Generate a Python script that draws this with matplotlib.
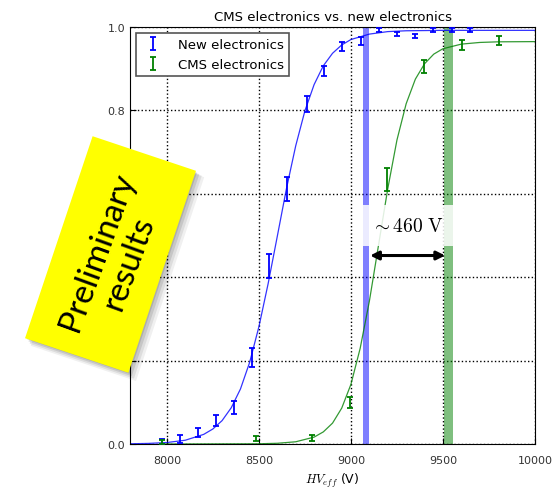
import numpy as np
import matplotlib.pyplot as plt
from matplotlib.patches import Rectangle

plt.rcParams['mathtext.fontset'] = 'cm'

# New electronics: measured points (HV_eff, efficiency, error)
new_hv = [7972, 8072, 8168, 8267, 8367, 8461, 8557, 8655, 8760, 8851,
          8950, 9054, 9153, 9249, 9349, 9445, 9548, 9648]
new_eff = [0.006, 0.012, 0.028, 0.056, 0.088, 0.207, 0.426, 0.612, 0.815, 0.895,
           0.953, 0.966, 0.992, 0.984, 0.978, 0.992, 0.992, 0.992]
new_err = [0.007, 0.009, 0.011, 0.014, 0.016, 0.023, 0.029, 0.029, 0.020, 0.012,
           0.011, 0.009, 0.005, 0.005, 0.005, 0.005, 0.005, 0.005]

# CMS electronics: measured points
cms_hv = [7975, 8485, 8787, 8996, 9195, 9398, 9606, 9805]
cms_eff = [0.004, 0.012, 0.014, 0.100, 0.634, 0.906, 0.957, 0.968]
cms_err = [0.005, 0.006, 0.008, 0.013, 0.028, 0.016, 0.012, 0.011]

# fitted sigmoid curves
new_fit_hv = [7800, 7900, 8000, 8100, 8200, 8250, 8300, 8350, 8400, 8450, 8500,
              8550, 8600, 8650, 8700, 8750, 8800, 8850, 8900, 8950, 9000, 9100,
              9200, 9300, 9500, 10000]
new_fit_eff = [0.0005, 0.0014, 0.0035, 0.009, 0.023, 0.036, 0.056, 0.087, 0.132,
               0.196, 0.281, 0.384, 0.498, 0.613, 0.715, 0.799, 0.862, 0.907,
               0.937, 0.957, 0.970, 0.983, 0.989, 0.991, 0.992, 0.992]
cms_fit_hv = [7975, 8500, 8600, 8700, 8800, 8850, 8900, 8950, 9000, 9050, 9100,
              9150, 9200, 9250, 9300, 9350, 9400, 9450, 9500, 9600, 9700, 9800,
              10000]
cms_fit_eff = [0.0, 0.0005, 0.0017, 0.0053, 0.0165, 0.029, 0.050, 0.086, 0.143,
               0.229, 0.342, 0.477, 0.612, 0.729, 0.816, 0.875, 0.912, 0.935,
               0.948, 0.959, 0.963, 0.9645, 0.965]

# working points (bands) and the difference between them
new_wp = (9064, 9100)
cms_wp = (9503, 9557)
arrow_x = (9104, 9512)
arrow_y = 0.452

fig = plt.figure(figsize=(5.59, 4.89), dpi=100)
ax = fig.add_axes([0.2326, 0.09, 0.7245, 0.8527])

ax.axvspan(*new_wp, color='blue', alpha=0.5, lw=0, zorder=1)
ax.axvspan(*cms_wp, color='green', alpha=0.5, lw=0, zorder=1)

ax.plot(new_fit_hv, new_fit_eff, color='blue', lw=0.9, alpha=0.8, zorder=2)
ax.plot(cms_fit_hv, cms_fit_eff, color='green', lw=0.9, alpha=0.8, zorder=2)

ax.errorbar(new_hv, new_eff, yerr=new_err, fmt='none', ecolor='blue',
            elinewidth=1.3, capsize=2.5, capthick=1.3, label='New electronics', zorder=3)
ax.errorbar(cms_hv, cms_eff, yerr=cms_err, fmt='none', ecolor='green',
            elinewidth=1.3, capsize=2.5, capthick=1.3, label='CMS electronics', zorder=3)

ax.annotate('', xy=(arrow_x[0], arrow_y), xytext=(arrow_x[1], arrow_y),
            arrowprops=dict(arrowstyle='<|-|>,head_length=0.5,head_width=0.25',
                            color='black', lw=2.2, shrinkA=0, shrinkB=0), zorder=5)
ax.text(9305, 0.523, r'$\sim 460\ \mathrm{V}$', fontsize=14, ha='center', va='center',
        bbox=dict(facecolor='white', edgecolor='none', alpha=0.85, pad=8), zorder=4)

ax.set_xlim(7800, 10000)
ax.set_ylim(0, 1.0)
ax.set_xticks([8000, 8500, 9000, 9500, 10000])
ax.set_yticks([0.0, 0.2, 0.4, 0.6, 0.8, 1.0])
ax.set_yticklabels(['%.1f' % v for v in ax.get_yticks()])
ax.tick_params(direction='in', length=4, labelsize=8, colors='black', labelcolor='#333333')
ax.tick_params(axis='x', pad=8)
ax.grid(True, color='black', linestyle=':', linewidth=1.0)
ax.set_axisbelow(True)
ax.set_title('CMS electronics vs. new electronics', fontsize=9.5, pad=5)
ax.set_xlabel(r'$HV_{eff}$ (V)', fontsize=9, labelpad=4)

leg = ax.legend(loc='upper left', fontsize=9.5, fancybox=False, framealpha=1,
                edgecolor='#555555', handlelength=1.8, handletextpad=1.0,
                borderaxespad=0.45)
leg.get_frame().set_linewidth(1.2)

# yellow "Preliminary results" sticker on top of everything
over = fig.add_axes([0, 0, 1, 1], zorder=10)
over.set_xlim(0, 559)
over.set_ylim(489, 0)
over.axis('off')
cx, cy, w, h, ang = 110.5, 255.5, 109, 213, 18.5
for i, a in enumerate([0.06, 0.08, 0.10, 0.12]):
    d = 6 - i * 1.3
    over.add_patch(Rectangle((cx + d - w / 2, cy + d - h / 2), w + 2 - i, h + 2 - i,
                             angle=ang, rotation_point='center', facecolor='black',
                             edgecolor='none', alpha=a))
over.add_patch(Rectangle((cx - w / 2, cy - h / 2), w, h, angle=ang,
                         rotation_point='center', facecolor='#ffff00', edgecolor='none'))
over.text(cx + 3, cy + 2, 'Preliminary\nresults', rotation=70, rotation_mode='anchor',
          ha='center', va='center', multialignment='center', fontsize=24,
          family='Lato', color='black', linespacing=1.15)

fig.savefig('out.png', dpi=100)
